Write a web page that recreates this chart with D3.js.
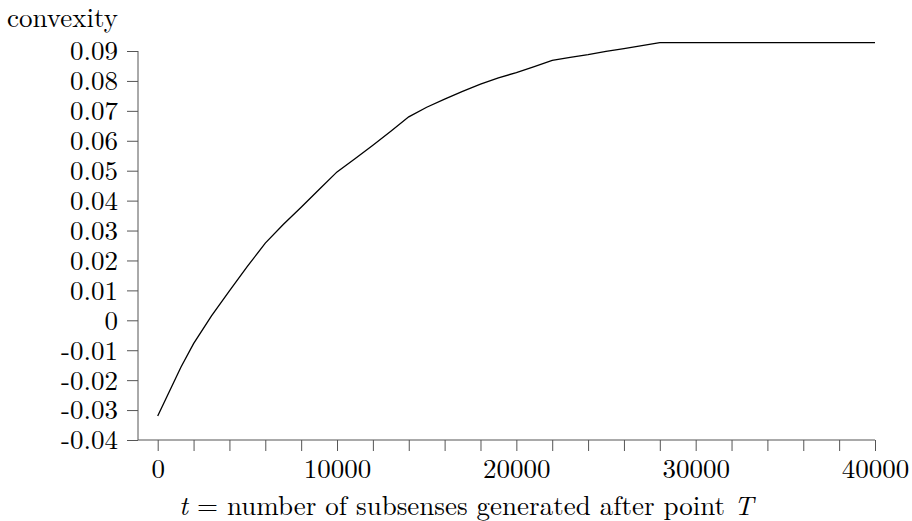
<!DOCTYPE html>
<html>
<head>
<meta charset="utf-8">
<script src="https://cdn.jsdelivr.net/npm/d3@7"></script>
<style>
  body { margin: 0; background: #fff; }
</style>
</head>
<body>
<div id="canvas"></div>
<script>
"use strict";

/* data */
let tValues = [0, 1300, 2000, 3000, 4000, 5000, 6000, 7000, 8000, 9000, 10000,
  11000, 12000, 13000, 14000, 15000, 16000, 17000, 18000, 19000, 20000,
  21000, 22000, 23000, 24000, 25000, 26000, 27000, 28000, 40000];
let convexity = [-0.032, -0.0156, -0.0078, 0.0015, 0.0098, 0.018, 0.0258, 0.032, 0.0378, 0.0437, 0.0496,
  0.054, 0.0585, 0.0632, 0.068, 0.0712, 0.0739, 0.0765, 0.0789, 0.081, 0.0828,
  0.0848, 0.0869, 0.0879, 0.0888, 0.0899, 0.0908, 0.0918, 0.0928, 0.0928];

let yTicks = [-0.04, -0.03, -0.02, -0.01, 0, 0.01, 0.02, 0.03, 0.04, 0.05, 0.06, 0.07, 0.08, 0.09];
let yTickLabels = ["-0.04", "-0.03", "-0.02", "-0.01", "0", "0.01", "0.02", "0.03", "0.04", "0.05", "0.06", "0.07", "0.08", "0.09"];
let xTicks = d3.range(0, 40001, 2000);
let xLabelTicks = [0, 10000, 20000, 30000, 40000];

/* SVG setup */
let svgWidth = 912;
let svgHeight = 521;
let fontFamily = "'Latin Modern Roman', 'Liberation Serif', serif";
let fontSize = "27px";

let svg = d3.select("#canvas")
  .append("svg")
  .attr("width", svgWidth)
  .attr("height", svgHeight);

let axisLeftX = 138;
let axisBottomY = 440;

let xScale = d3.scaleLinear().domain([0, 40000]).range([157.7, 875]);
let yScale = d3.scaleLinear().domain([-0.04, 0.09]).range([440, 51]);

let axisColor = "#555";

/* axis lines */
svg.append("line")
  .attr("x1", axisLeftX).attr("y1", yScale(0.09))
  .attr("x2", axisLeftX).attr("y2", axisBottomY)
  .attr("stroke", axisColor);
svg.append("line")
  .attr("x1", axisLeftX).attr("y1", axisBottomY)
  .attr("x2", xScale(40000)).attr("y2", axisBottomY)
  .attr("stroke", axisColor);

/* y axis ticks */
let yAxis = d3.axisLeft(yScale)
  .tickValues(yTicks)
  .tickSize(11)
  .tickPadding(9)
  .tickFormat(function (d, i) { return yTickLabels[i]; });

let yG = svg.append("g")
  .attr("transform", "translate(" + axisLeftX + ",0)")
  .call(yAxis);
yG.select(".domain").remove();
yG.selectAll(".tick line").attr("stroke", axisColor);
yG.selectAll(".tick text")
  .style("font-family", fontFamily)
  .style("font-size", fontSize)
  .attr("fill", "#000")
  .attr("dy", "0.33em");

/* x axis ticks */
let xAxis = d3.axisBottom(xScale)
  .tickValues(xTicks)
  .tickSize(11)
  .tickPadding(8)
  .tickFormat(function (d) { return xLabelTicks.indexOf(d) >= 0 ? String(d) : ""; });

let xG = svg.append("g")
  .attr("transform", "translate(0," + axisBottomY + ")")
  .call(xAxis);
xG.select(".domain").remove();
xG.selectAll(".tick line").attr("stroke", axisColor);
xG.selectAll(".tick text")
  .style("font-family", fontFamily)
  .style("font-size", fontSize)
  .attr("fill", "#000");

/* curve */
let points = tValues.map(function (t, i) { return [t, convexity[i]]; });
let line = d3.line()
  .x(function (d) { return xScale(d[0]); })
  .y(function (d) { return yScale(d[1]); });

svg.append("path")
  .datum(points)
  .attr("d", line)
  .attr("fill", "none")
  .attr("stroke", "#000")
  .attr("stroke-width", 1.3);

/* labels */
svg.append("text")
  .attr("x", 7)
  .attr("y", 27)
  .style("font-family", fontFamily)
  .style("font-size", fontSize)
  .text("convexity");

let xLabel = svg.append("text")
  .attr("x", 179)
  .attr("y", 515)
  .style("font-family", fontFamily)
  .style("font-size", fontSize);
xLabel.append("tspan").style("font-style", "italic").text("t");
xLabel.append("tspan").text(" = number of subsenses generated after point ");
xLabel.append("tspan").style("font-style", "italic").text("T");
</script>
</body>
</html>
